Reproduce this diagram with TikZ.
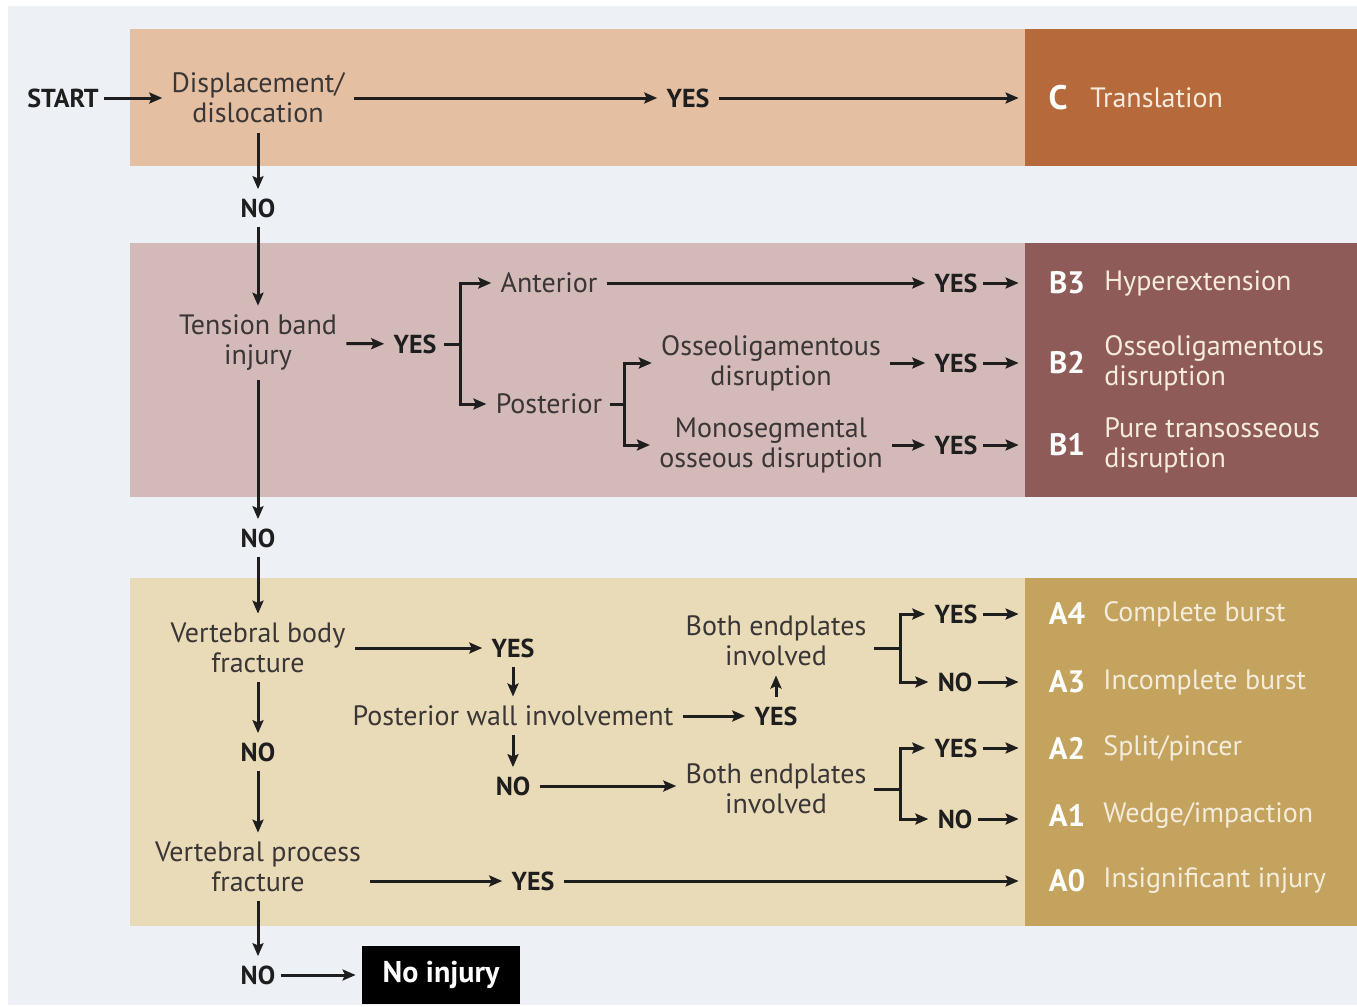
\documentclass[tikz,border=0pt]{standalone}
\usepackage{fontspec}
\setmainfont{PT Sans}
\usetikzlibrary{arrows.meta}
\definecolor{bgc}{HTML}{EDF1F6}
\definecolor{cl}{HTML}{E4BFA2}
\definecolor{cd}{HTML}{B6693A}
\definecolor{bl}{HTML}{D4B9B9}
\definecolor{bd}{HTML}{8F5B59}
\definecolor{al}{HTML}{EADBB8}
\definecolor{ad}{HTML}{C3A35D}
\definecolor{qtext}{HTML}{3A3636}
\definecolor{restext}{HTML}{F5ECDD}
\definecolor{arrcol}{HTML}{1E1E1E}
\begin{document}
\begin{tikzpicture}[x=0.5pt,y=-0.5pt,
 q/.style={text=qtext, font=\fontsize{14}{15}\selectfont, align=center, inner sep=1.5pt},
 yn/.style={text=arrcol, font=\bfseries\fontsize{13}{14}\selectfont, inner sep=1.5pt},
 code/.style={text=white, font=\bfseries\fontsize{15.5}{16}\selectfont, inner sep=0pt},
 res/.style={text=restext, font=\fontsize{14}{15}\selectfont, align=left, anchor=west, inner sep=0pt},
 arr/.style={-{Stealth[length=6.5pt,width=5.5pt,inset=1.2pt]}, line width=1.5pt, draw=arrcol, shorten <=3pt, shorten >=3pt},
 ln/.style={line width=1.5pt, draw=arrcol},
 dbox/.style={inner sep=0pt, minimum width=166pt},
]
\useasboundingbox (0,0) rectangle (1357,1007);
\fill[white] (0,0) rectangle (1357,1007);
\fill[bgc] (8,6) rectangle (1357,1005);
% bands
\fill[cl] (130,29) rectangle (1025,166);
\fill[bl] (130,243) rectangle (1025,497);
\fill[al] (130,578) rectangle (1025,926);
\node[dbox, fill=cd, minimum height=68.5pt] (cbox) at (1191,97.5) {};
\node[dbox, fill=bd, minimum height=127pt] (bbox) at (1191,370) {};
\node[dbox, fill=ad, minimum height=174pt] (abox) at (1191,752) {};

% ---- C row
\node[yn] (start) at (63,98) {START};
\node[q] (disp) at (258,98) {Displacement/\\dislocation};
\node[yn] (yesC) at (688,98) {YES};
\node[code, font=\bfseries\fontsize{17}{18}\selectfont] (ccode) at (1058,98) {C};
\node[res] (ctext) at (1090,98) {Translation};
\draw[arr, shorten <=1pt] (start) -- (disp);
\draw[arr] (disp) -- (yesC);
\draw[arr] (yesC) -- (yesC -| cbox.west);

% ---- B rows
\node[yn] (no1) at (258,208) {NO};
\node[q] (tb) at (258,343) {Tension band\\injury};
\node[yn] (yesB) at (415,344) {YES};
\coordinate (br1) at (460,344);
\node[q] (ant) at (549,283) {Anterior};
\node[q] (post) at (549,404) {Posterior};
\coordinate (br2) at (624,404);
\node[q] (oss) at (771,363) {Osseoligamentous\\disruption};
\node[q] (mono) at (771,445) {Monosegmental\\osseous disruption};
\node[yn] (yesB3) at (956,283) {YES};
\node[yn] (yesB2) at (956,363) {YES};
\node[yn] (yesB1) at (956,445) {YES};
\node[code] (b3) at (1067,283) {B3};
\node[code] (b2) at (1067,363) {B2};
\node[code] (b1) at (1067,445) {B1};
\node[res] (b3t) at (1104,283) {Hyperextension};
\node[res] (b2t) at (1104,363) {Osseoligamentous\\disruption};
\node[res] (b1t) at (1104,445) {Pure transosseous\\disruption};

\draw[arr] (disp) -- (no1);
\draw[arr] (no1) -- (tb);
\draw[arr] (tb) -- (yesB);
\draw[ln, shorten <=2pt] (yesB.east) -- (br1);
\draw[arr, shorten <=0pt] (br1) |- (ant);
\draw[arr, shorten <=0pt] (br1) |- (post);
\draw[ln, shorten <=2pt] (post.east) -- (br2);
\draw[arr, shorten <=0pt] (br2) |- (oss);
\draw[arr, shorten <=0pt] (br2) |- (mono);
\draw[arr] (ant) -- (yesB3);
\draw[arr] (oss.east |- yesB2) -- (yesB2);
\draw[arr] (mono.east |- yesB1) -- (yesB1);
\draw[arr, shorten <=1pt] (yesB3) -- (yesB3 -| bbox.west);
\draw[arr, shorten <=1pt] (yesB2) -- (yesB2 -| bbox.west);
\draw[arr, shorten <=1pt] (yesB1) -- (yesB1 -| bbox.west);

% ---- A rows
\node[yn] (no2) at (258,538) {NO};
\node[q] (vbf) at (258,648) {Vertebral body\\fracture};
\node[yn] (yesA) at (513,648) {YES};
\node[q] (pwi) at (513,716) {Posterior wall involvement};
\node[yn] (yesP) at (776,716) {YES};
\node[q] (bep1) at (776,641) {Both endplates\\involved};
\coordinate (br3) at (900,648);
\node[yn] (yesA4) at (956,614) {YES};
\node[yn] (noA3) at (955,682) {NO};
\node[yn] (noP) at (513,786) {NO};
\node[q] (bep2) at (776,789) {Both endplates\\involved};
\coordinate (br4) at (900,789);
\node[yn] (yesA2) at (956,748) {YES};
\node[yn] (noA1) at (955,819) {NO};
\node[yn] (no3) at (258,752) {NO};
\node[q] (vpf) at (258,867) {Vertebral process\\fracture};
\node[yn] (yesA0) at (533,881) {YES};
\node[yn] (no4) at (258,975) {NO};
\node[fill=black, text=white, font=\bfseries\fontsize{15}{16}\selectfont, minimum width=79pt, minimum height=29pt, inner sep=0pt] (noinj) at (441,975) {No injury};

\node[code] (a4) at (1067,614) {A4};
\node[code] (a3) at (1067,682) {A3};
\node[code] (a2) at (1067,748) {A2};
\node[code] (a1) at (1067,815) {A1};
\node[code] (a0) at (1067,881) {A0};
\node[res] (a4t) at (1103,614) {Complete burst};
\node[res] (a3t) at (1103,682) {Incomplete burst};
\node[res] (a2t) at (1103,748) {Split/pincer};
\node[res] (a1t) at (1103,815) {Wedge/impaction};
\node[res] (a0t) at (1103,881) {Insignificant injury};

\draw[arr] (tb) -- (no2);
\draw[arr] (no2) -- (vbf);
\draw[arr] (vbf) -- (yesA);
\draw[arr] (yesA) -- (pwi);
\draw[arr] (pwi) -- (yesP);
\draw[arr] (yesP) -- (bep1);
\draw[ln, shorten <=2pt] (bep1.east |- br3) -- (br3);
\draw[arr, shorten <=0pt] (br3) |- (yesA4);
\draw[arr, shorten <=0pt] (br3) |- (noA3);
\draw[arr] (pwi) -- (noP);
\draw[arr] (noP) -- (noP -| bep2.west);
\draw[ln, shorten <=2pt] (bep2.east |- br4) -- (br4);
\draw[arr, shorten <=0pt] (br4) |- (yesA2);
\draw[arr, shorten <=0pt] (br4) |- (noA1);
\draw[arr, shorten <=1pt] (yesA4) -- (yesA4 -| abox.west);
\draw[arr, shorten <=1pt] (noA3) -- (noA3 -| abox.west);
\draw[arr, shorten <=1pt] (yesA2) -- (yesA2 -| abox.west);
\draw[arr, shorten <=1pt] (noA1) -- (noA1 -| abox.west);
\draw[arr] (vbf) -- (no3);
\draw[arr] (no3) -- (vpf);
\draw[arr] (vpf.east |- yesA0) -- (yesA0);
\draw[arr] (yesA0) -- (yesA0 -| abox.west);
\draw[arr] (vpf) -- (no4);
\draw[arr, shorten <=1pt] (no4) -- (noinj);
\end{tikzpicture}
\end{document}
